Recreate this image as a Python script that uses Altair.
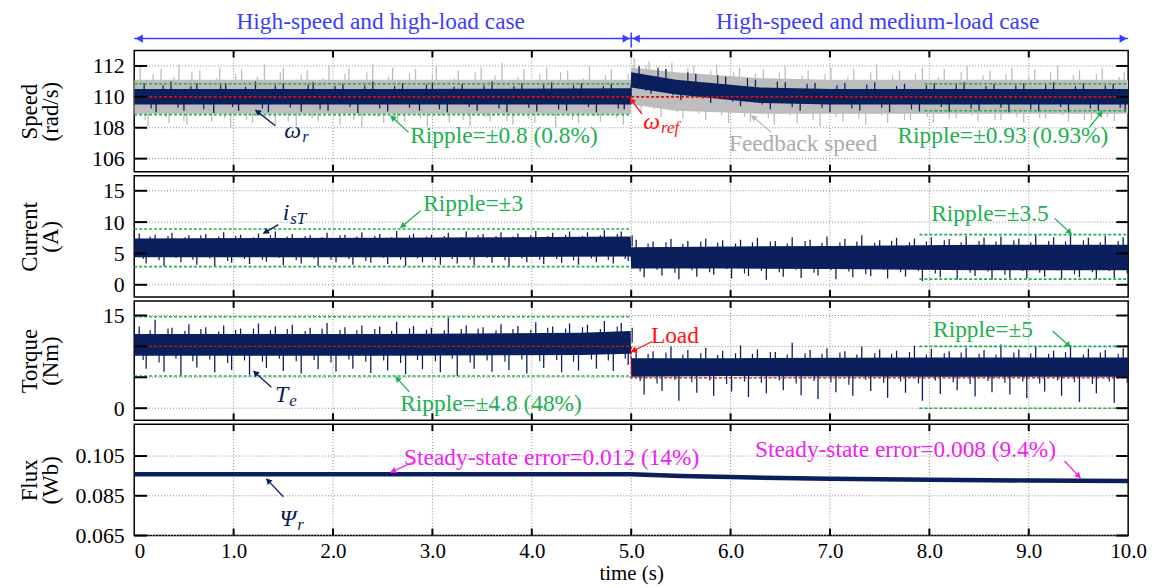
import math
import altair as alt
import numpy as np
import pandas as pd

FONT = "'Liberation Serif', 'Times New Roman', Times, 'DejaVu Serif', serif"
NAVY = "#0a1f5c"
GRAY = "#bdbdbd"
GRAYTXT = "#ababab"
GREEN = "#20b050"
RED = "#ff1010"
REDLINE = "#d81010"
MAG = "#ee22ee"
BLUE = "#3c3cff"
GRID = "#8a8a8a"
W = 1000
HEAD_H = 38
H = [122, 122, 120, 112]
TXT = 23.5

# ---------------- speed ----------------
sp_t = [0, 2.5, 4.995, 5.0, 5.45, 6.3, 7.0, 8.0, 9.0, 10.0]
gray_lo = [108.9, 108.9, 108.9, 109.5, 109.1, 108.9, 108.9, 108.9, 108.9, 108.9]
gray_hi = [111.1, 111.1, 111.1, 111.9, 111.6, 111.2, 111.1, 111.1, 111.1, 111.1]
navy_lo = [109.5, 109.5, 109.5, 110.6, 110.15, 109.6, 109.5, 109.5, 109.5, 109.5]
navy_hi = [110.5, 110.5, 110.55, 111.6, 111.1, 110.6, 110.5, 110.5, 110.5, 110.5]

gsp_t = [0.06, 0.14, 0.27, 0.35, 0.45, 0.53, 0.66, 0.78, 0.86, 0.97, 1.08, 1.19, 1.31, 1.42,
         1.50, 1.63, 1.74, 1.85, 1.96, 2.07, 2.16, 2.29, 2.40, 2.51, 2.60, 2.72, 2.83, 2.95,
         3.04, 3.17, 3.26, 3.38, 3.49, 3.58, 3.70, 3.81, 3.92, 4.03, 4.15, 4.24, 4.36, 4.47,
         4.58, 4.69, 4.80, 4.92, 5.03, 5.10, 5.18, 5.30, 5.41, 5.52, 5.63, 5.75, 5.86, 5.98,
         6.09, 6.20, 6.33, 6.44, 6.55, 6.67, 6.78, 6.90, 7.01, 7.13, 7.24, 7.36, 7.47, 7.58,
         7.70, 7.81, 7.93, 8.04, 8.15, 8.27, 8.38, 8.49, 8.61, 8.72, 8.83, 8.95, 9.06, 9.17,
         9.29, 9.40, 9.51, 9.63, 9.74, 9.86, 9.96]
gsp_v = [112.0, 108.1, 111.8, 108.3, 112.1, 108.2, 111.7, 108.4, 111.9, 108.0, 111.8, 108.3, 112.1, 108.2,
         111.9, 108.1, 111.7, 108.4, 112.0, 108.2, 111.8, 108.0, 112.1, 108.3, 111.9, 108.4, 111.8, 108.1,
         112.0, 108.3, 111.7, 108.1, 111.9, 108.4, 112.2, 108.2, 111.8, 108.3, 111.9, 108.0, 111.7, 108.3,
         112.0, 108.4, 111.8, 108.2, 112.5, 109.0, 112.3, 108.7, 112.2, 108.6, 112.0, 108.5, 112.1, 108.3,
         111.9, 108.4, 111.8, 108.2, 112.0, 108.3, 111.7, 108.1, 111.9, 108.4, 111.8, 108.2, 112.1, 108.3,
         111.7, 108.5, 111.9, 108.3, 111.8, 108.6, 112.0, 108.4, 111.7, 108.5, 111.9, 108.3, 111.8, 108.6,
         112.0, 108.4, 111.7, 108.5, 111.9, 108.4, 111.6]
gedge_v = [108.5, 111.5, 108.7, 111.3, 108.4, 111.6, 108.8, 111.2, 108.6, 111.5, 108.5, 111.3, 108.7, 111.6,
           108.4, 111.4, 108.6, 111.2, 108.8, 111.5, 108.5, 111.6, 108.7, 111.3, 108.4, 111.5, 108.6, 111.4,
           108.8, 111.2, 108.5, 111.6, 108.7, 111.4, 108.4, 111.3, 108.6, 111.5, 108.8, 111.6, 108.5, 111.2,
           108.7, 111.4, 108.6, 111.5, 109.4, 112.0, 109.2, 111.8, 109.0, 111.9, 108.9, 111.7, 108.8, 111.6,
           108.7, 111.5, 108.6, 111.6, 108.8, 111.4, 108.5, 111.5, 108.7, 111.3, 108.6, 111.6, 108.8, 111.4,
           108.5, 111.5, 108.7, 111.3, 108.6, 111.6, 108.8, 111.4, 108.5, 111.5, 108.7, 111.3, 108.6, 111.6,
           108.8, 111.4, 108.5, 111.5, 108.7, 111.3, 108.6]

nsp_t = [0.10, 0.22, 0.37, 0.50, 0.63, 0.80, 0.92, 1.05, 1.22, 1.35, 1.50, 1.68, 1.80, 1.95, 2.10,
         2.25, 2.40, 2.55, 2.70, 2.87, 3.00, 3.15, 3.30, 3.45, 3.60, 3.75, 3.90, 4.05, 4.20, 4.35,
         4.50, 4.65, 4.80, 4.93, 5.08, 5.20, 5.35, 5.50, 5.65, 5.80, 5.95, 6.10, 6.25, 6.40, 6.55,
         6.70, 6.85, 7.00, 7.15, 7.30, 7.45, 7.60, 7.75, 7.90, 8.05, 8.20, 8.35, 8.50, 8.65, 8.80,
         8.95, 9.10, 9.25, 9.40, 9.55, 9.70, 9.85, 9.97]
nsp_v = [110.9, 109.0, 111.0, 109.1, 110.9, 108.95, 110.85, 109.1, 111.0, 109.0, 110.9, 109.05, 110.95, 109.1, 110.85,
         108.95, 111.0, 109.05, 110.9, 109.1, 110.95, 109.0, 110.85, 109.1, 111.0, 109.0, 110.9, 109.05, 110.95, 109.1,
         110.9, 109.0, 110.85, 109.2, 112.0, 110.2, 111.8, 109.8, 111.5, 109.6, 111.3, 109.4, 111.1, 109.2, 110.95,
         109.1, 110.9, 109.0, 110.9, 109.1, 110.95, 109.0, 110.85, 109.05, 110.9, 109.0, 110.95, 109.1, 110.85, 109.0,
         110.9, 109.05, 110.95, 109.0, 110.9, 109.1, 110.85, 109.05]
nedge_v = [109.25, 110.75, 109.3, 110.7, 109.2, 110.8, 109.35, 110.65, 109.25, 110.75, 109.3, 110.8, 109.2, 110.7, 109.35,
           110.75, 109.25, 110.7, 109.3, 110.8, 109.2, 110.65, 109.35, 110.75, 109.25, 110.7, 109.3, 110.8, 109.2, 110.75,
           109.35, 110.7, 109.25, 110.8, 110.4, 111.9, 110.1, 111.6, 109.9, 111.4, 109.7, 111.2, 109.5, 111.0,
           109.35, 110.85, 109.3, 110.75, 109.25, 110.8, 109.3, 110.7, 109.2, 110.75, 109.35, 110.8, 109.25, 110.7,
           109.3, 110.75, 109.2, 110.8, 109.35, 110.7, 109.25, 110.75, 109.3, 110.8]

# ---------------- current ----------------
cur_t = [0, 2.5, 4.995, 5.0, 6.0, 7.0, 7.9, 8.5, 10.0]
cur_lo = [4.4, 4.4, 4.5, 2.6, 2.6, 2.5, 2.4, 2.3, 2.3]
cur_hi = [7.4, 7.5, 7.7, 6.0, 6.1, 6.2, 6.3, 6.4, 6.4]
csp_t = [0.05, 0.12, 0.21, 0.30, 0.38, 0.47, 0.55, 0.63, 0.72, 0.81, 0.90, 0.98, 1.07, 1.16, 1.25,
         1.33, 1.42, 1.50, 1.59, 1.68, 1.77, 1.85, 1.94, 2.03, 2.12, 2.20, 2.29, 2.38, 2.47, 2.55,
         2.64, 2.73, 2.81, 2.90, 2.99, 3.08, 3.16, 3.25, 3.34, 3.42, 3.51, 3.60, 3.69, 3.77, 3.86,
         3.95, 4.04, 4.12, 4.21, 4.30, 4.38, 4.47, 4.56, 4.65, 4.73, 4.82, 4.90, 4.97,
         5.05, 5.13, 5.22, 5.31, 5.40, 5.48, 5.57, 5.66, 5.75, 5.83, 5.92, 6.01, 6.10, 6.18, 6.27,
         6.36, 6.45, 6.53, 6.62, 6.71, 6.80, 6.88, 6.97, 7.06, 7.15, 7.23, 7.32, 7.41, 7.50, 7.58,
         7.67, 7.76, 7.85, 7.93, 8.02, 8.11, 8.20, 8.28, 8.37, 8.46, 8.55, 8.63, 8.72, 8.81, 8.90,
         8.98, 9.07, 9.16, 9.25, 9.33, 9.42, 9.51, 9.60, 9.68, 9.77, 9.86, 9.95]
csp_v = [8.2, 3.4, 8.0, 3.0, 8.3, 3.6, 7.9, 3.2, 8.1, 2.9, 8.4, 3.5, 8.0, 3.3, 8.2,
         3.7, 8.5, 3.1, 8.1, 3.4, 7.9, 3.0, 8.3, 3.6, 8.0, 3.2, 8.4, 3.5, 8.1, 3.3,
         8.6, 3.0, 8.2, 3.6, 8.0, 3.2, 8.3, 3.4, 8.5, 3.1, 8.1, 3.5, 8.4, 3.0, 8.2,
         3.6, 8.6, 3.3, 8.3, 3.5, 8.5, 3.2, 8.4, 3.6, 8.7, 3.4, 8.5, 3.8,
         7.2, 1.2, 6.9, 1.5, 7.3, 0.9, 7.0, 1.3, 7.4, 1.6, 7.1, 1.0, 7.2, 1.4, 7.5,
         0.8, 7.0, 1.3, 7.6, 1.1, 7.2, 1.5, 7.7, 0.9, 7.3, 1.2, 7.9, 1.4, 7.1, 1.0,
         7.5, 1.3, 7.4, 0.6, 7.6, 1.2, 7.3, 0.9, 7.8, 1.4, 7.5, 0.8, 7.7, 1.1, 7.4,
         1.0, 7.9, 1.3, 7.6, 0.8, 8.0, 1.2, 7.5, 0.9, 7.8, 1.1, 7.6]
cedge_v = [4.1, 7.7, 3.9, 7.8, 4.3, 7.6, 4.0, 7.9, 4.2, 7.7, 3.8, 7.8, 4.1, 7.6,
           4.0, 7.9, 4.3, 7.7, 3.9, 7.8, 4.2, 7.6, 4.0, 7.9, 4.1, 7.7, 3.8, 7.8, 4.3, 7.6,
           4.0, 7.9, 4.2, 7.7, 3.9, 7.8, 4.1, 7.6, 4.0, 7.9, 4.3, 7.8, 3.9, 7.7, 4.2,
           7.9, 4.0, 7.8, 4.1, 8.0, 3.9, 7.8, 4.2, 7.9, 4.0, 8.1, 4.1, 7.9,
           2.1, 6.6, 2.4, 6.8, 1.9, 6.5, 2.3, 6.9, 2.0, 6.7, 2.5, 6.6, 1.8, 6.8, 2.2,
           6.9, 2.0, 6.6, 2.4, 7.0, 1.9, 6.7, 2.3, 6.8, 2.1, 6.9, 1.7, 6.7, 2.4, 7.0,
           2.0, 6.8, 2.2, 6.9, 1.8, 7.1, 2.3, 6.8, 1.9, 7.0, 2.1, 6.9, 1.6, 7.1, 2.2,
           6.8, 1.9, 7.0, 2.3, 6.9, 1.7, 7.1, 2.0, 6.8, 2.2, 7.0, 1.8]

# ---------------- torque ----------------
tq_t = [0, 2.5, 4.5, 4.995, 5.0, 6.0, 8.0, 10.0]
tq_lo = [8.5, 8.5, 8.6, 8.8, 5.1, 5.2, 5.1, 5.1]
tq_hi = [12.0, 12.0, 12.2, 12.5, 8.1, 8.1, 8.2, 8.2]
tsp_t = csp_t
tsp_v = [13.2, 6.4, 14.3, 5.9, 13.0, 5.2, 13.6, 6.6, 13.1, 5.8, 13.4, 6.2, 12.9, 5.4, 13.7,
         6.5, 13.2, 6.0, 13.5, 5.6, 13.0, 6.3, 13.8, 5.9, 13.1, 6.4, 13.4, 5.7, 13.2, 6.1,
         14.0, 5.5, 13.3, 6.3, 13.0, 5.8, 14.6, 5.2, 13.4, 6.4, 13.1, 5.9, 13.6, 6.2, 13.3,
         5.6, 13.9, 6.5, 13.2, 5.8, 13.7, 6.1, 13.5, 6.4, 14.1, 6.0, 13.8, 7.0,
         9.6, 2.2, 9.2, 2.8, 10.0, 1.2, 9.4, 2.5, 9.8, 2.0, 9.3, 2.7, 10.2, 1.8, 9.5,
         2.4, 9.1, 2.9, 10.6, 2.1, 9.4, 1.5, 9.7, 2.6, 9.2, 2.0, 10.0, 2.8, 9.5, 1.7,
         9.3, 2.5, 10.1, 1.2, 9.6, 2.3, 9.2, 2.9, 9.8, 1.9, 9.4, 2.6, 10.3, 2.2, 9.5,
         1.6, 9.9, 2.7, 9.3, 2.0, 10.2, 1.0, 9.6, 2.4, 9.4, 0.9, 9.7]
tedge_v = [7.8, 12.6, 7.4, 12.9, 8.0, 12.5, 7.6, 12.8, 7.9, 12.4, 7.3, 12.7, 7.7, 12.9,
           7.5, 12.6, 8.0, 12.8, 7.6, 12.5, 7.8, 12.9, 7.4, 12.7, 7.9, 12.6, 7.5, 12.8, 7.7, 12.5,
           7.3, 12.9, 7.8, 12.7, 7.6, 12.6, 8.0, 12.8, 7.4, 12.9, 7.7, 12.6, 7.5, 12.8, 7.9,
           12.7, 7.6, 13.0, 7.8, 12.9, 7.5, 13.1, 7.9, 12.8, 7.7, 13.2, 8.0, 13.0,
           4.4, 8.8, 4.0, 9.0, 4.6, 8.7, 4.2, 8.9, 4.5, 8.6, 3.9, 8.9, 4.3, 8.8, 4.1,
           9.1, 4.5, 8.7, 4.0, 8.9, 4.4, 8.8, 4.2, 9.0, 3.8, 8.7, 4.6, 8.9, 4.1, 8.8,
           4.3, 9.1, 4.0, 8.7, 4.5, 8.9, 4.2, 9.0, 3.9, 8.8, 4.4, 8.7, 4.1, 9.0, 4.3,
           8.9, 4.0, 8.8, 4.5, 9.1, 4.2, 8.7, 3.9, 9.0, 4.3, 8.8, 4.1]
tq_ref_t = [0, 5.0, 5.0, 10.0]
tq_ref_v = [10.0, 10.0, 4.9, 4.9]

# ---------------- flux ----------------
flux_t = [0, 5.0, 5.5, 6.0, 6.5, 7.0, 8.0, 9.0, 10.0]
flux_v = [0.0958, 0.0958, 0.0950, 0.0944, 0.0939, 0.0936, 0.0931, 0.0927, 0.0924]

DOMS = [[105.15, 113.0], [-1.95, 17.4], [-1.95, 17.35], [0.065, 0.121]]
TICKS = [[106, 108, 110, 112], [0, 5, 10, 15], [0, 5, 10, 15], [0.065, 0.085, 0.105]]
FMTS = ["d", "d", "d", ".3f"]
TITLES = [["Speed", "(rad/s)"], ["Current", "(A)"], ["Torque", "(Nm)"], ["Flux", "(Wb)"]]

GREENS = [
    [(0, 5.0, 110.85), (0, 5.0, 108.85), (7.95, 10, 110.85), (7.95, 10, 109.1)],
    [(0, 5.0, 8.9), (0, 5.0, 2.9), (7.9, 10, 8.0), (7.9, 10, 0.9)],
    [(0, 5.0, 14.8), (0, 5.0, 5.2), (7.9, 10, 10.0), (7.9, 10, 0.0)],
    [],
]
TEXTS = [
    [(3.72, 107.45, "Ripple=±0.8 (0.8%)", GREEN), (8.74, 107.48, "Ripple=±0.93 (0.93%)", GREEN),
     (6.73, 106.95, "Feedback speed", GRAYTXT)],
    [(3.41, 12.9, "Ripple=±3", GREEN), (8.61, 11.3, "Ripple=±3.5", GREEN)],
    [(5.44, 11.7, "Load", RED), (3.59, 0.65, "Ripple=±4.8 (48%)", GREEN), (8.54, 12.7, "Ripple=±5", GREEN)],
    [(4.2, 0.104, "Steady-state error=0.012 (14%)", MAG), (7.76, 0.108, "Steady-state error=0.008 (9.4%)", MAG)],
]
SYMS = [
    [(1.68, 107.8, "ω", "r", NAVY), (5.29, 108.37, "ω", "ref", RED)],
    [(1.56, 11.5, "i", "sT", NAVY)],
    [(1.55, 2.1, "T", "e", NAVY)],
    [(1.63, 0.0735, "Ψ", "r", NAVY)],
]
ARROWS = [
    [(1.42, 108.13, 1.22, 109.14, NAVY), (2.76, 107.7, 2.58, 108.77, GREEN),
     (5.11, 108.88, 4.99, 109.9, RED), (6.41, 107.7, 6.21, 108.8, GRAY),
     (9.61, 108.03, 9.74, 109.06, GREEN)],
    [(1.45, 9.6, 1.30, 8.2, NAVY), (2.88, 11.8, 2.68, 9.1, GREEN), (9.26, 10.6, 9.43, 8.1, GREEN)],
    [(5.21, 10.8, 5.0, 9.1, RED), (1.38, 3.4, 1.2, 6.0, NAVY), (2.77, 2.6, 2.63, 5.1, GREEN),
     (9.24, 12.5, 9.42, 9.9, GREEN)],
    [(1.5, 0.0845, 1.33, 0.0935, NAVY), (2.83, 0.1025, 2.58, 0.0968, MAG),
     (9.36, 0.1025, 9.52, 0.094, MAG)],
]
HEAD_TEXT = [(2.48, "High-speed and high-load case"), (7.48, "High-speed and medium-load case")]

STATE = {"bottom": False, "header": False}


def X(field="t", axis=alt.Undefined):
    if axis is alt.Undefined and (not STATE["bottom"] or STATE["header"]):
        axis = None
    return alt.X(f"{field}:Q", scale=alt.Scale(domain=[0, 10], nice=False, zero=False), axis=axis)


def Y(field, dom, axis=alt.Undefined):
    if axis is alt.Undefined and STATE["header"]:
        axis = None
    return alt.Y(f"{field}:Q", scale=alt.Scale(domain=dom, nice=False, zero=False), axis=axis)


def band(t, lo, hi, dom, color):
    df = pd.DataFrame({"t": t, "lo": lo, "hi": hi})
    return alt.Chart(df).mark_area(color=color, opacity=1, clip=True).encode(
        x=X("t"), y=Y("lo", dom), y2="hi:Q")


def spikes(t, v, env_t, env_lo, env_hi, dom, color, sw=1.2, off=0):
    n = min(len(t), len(v))
    t, v = list(t)[:n], list(v)[:n]
    mid = (np.array(env_lo) + np.array(env_hi)) / 2.0
    base = np.interp(t, env_t, mid)
    df = pd.DataFrame({"t": t, "lo": base, "hi": v})
    return alt.Chart(df).mark_rule(color=color, strokeWidth=sw, clip=True, xOffset=off).encode(
        x=X("t"), y=Y("lo", dom), y2="hi:Q")


def axis_carrier(i, bottom):
    dom, h = DOMS[i], H[i]
    yaxis = alt.Axis(values=TICKS[i], format=FMTS[i], ticks=False, domain=False, grid=False,
                     labelFont=FONT, labelFontSize=22, labelColor="black", labelPadding=10,
                     labelOverlap=False,
                     title=TITLES[i], titleFont=FONT, titleFontSize=23, titleFontWeight="normal",
                     titleColor="black", titleAngle=270, titleX=-105, titleY=h / 2,
                     titleAlign="center", titleBaseline="middle", titleLineHeight=21)
    if bottom:
        xaxis = alt.Axis(values=list(range(11)),
                         labelExpr="datum.value == 0 ? '0' : format(datum.value, '.1f')",
                         labelFlush=False,
                         labelAlign={"condition": {"test": "datum.value == 0", "value": "left"},
                                     "value": "center"},
                         ticks=False, domain=False, grid=False,
                         labelFont=FONT, labelFontSize=21, labelColor="black", labelPadding=5,
                         title="time (s)", titleFont=FONT, titleFontSize=21,
                         titleFontWeight="normal", titleColor="black", titlePadding=1)
    else:
        xaxis = None
    df = pd.DataFrame({"t": [0.0], "v": [dom[0]]})
    return alt.Chart(df).mark_point(opacity=0, size=1).encode(
        x=X("t", xaxis), y=Y("v", dom, yaxis))


def grid_layers(i):
    dom, h = DOMS[i], H[i]
    gy = pd.DataFrame({"v": TICKS[i]})
    gx = pd.DataFrame({"t": [1, 2, 3, 4, 5, 6, 7, 8, 9]})
    return [
        alt.Chart(gy).mark_rule(color=GRID, strokeDash=[1, 2], strokeWidth=1).encode(
            y=Y("v", dom), x=alt.value(0), x2=alt.value(W)),
        alt.Chart(gx).mark_rule(color=GRID, strokeDash=[1, 2], strokeWidth=1).encode(
            x=X("t"), y=alt.value(0), y2=alt.value(h)),
    ]


def tick_layers(i):
    dom, h = DOMS[i], H[i]
    gy = pd.DataFrame({"v": TICKS[i]})
    gx = pd.DataFrame({"t": [1, 2, 3, 4, 5, 6, 7, 8, 9]})
    return [
        alt.Chart(gy).mark_rule(color="black", strokeWidth=2).encode(
            y=Y("v", dom), x=alt.value(0), x2=alt.value(13)),
        alt.Chart(gy).mark_rule(color="black", strokeWidth=2).encode(
            y=Y("v", dom), x=alt.value(W - 12), x2=alt.value(W)),
        alt.Chart(gx).mark_rule(color="black", strokeWidth=2).encode(
            x=X("t"), y=alt.value(0), y2=alt.value(7)),
        alt.Chart(gx).mark_rule(color="black", strokeWidth=2).encode(
            x=X("t"), y=alt.value(h - 7), y2=alt.value(h)),
    ]


def green_layer(i):
    g = GREENS[i]
    if not g:
        return []
    df = pd.DataFrame([{"t0": a, "t1": b, "v": v} for (a, b, v) in g])
    return [alt.Chart(df).mark_rule(color=GREEN, strokeWidth=1.6, strokeDash=[3, 2]).encode(
        x=X("t0"), x2="t1:Q", y=Y("v", DOMS[i]))]


def arrow_layers(i):
    arrows, dom, h = ARROWS[i], DOMS[i], H[i]
    rows, heads = [], []
    span = dom[1] - dom[0]
    for (t0, v0, t1, v1, c) in arrows:
        x0, y0 = t0 * W / 10, h * (dom[1] - v0) / span
        x1, y1 = t1 * W / 10, h * (dom[1] - v1) / span
        dx, dy = x1 - x0, y1 - y0
        L = math.hypot(dx, dy)
        ux, uy = dx / L, dy / L
        ang = math.degrees(math.atan2(dx, -dy)) % 360
        hx, hy = x1 - ux * 3.5, y1 - uy * 3.5
        rows.append({"t0": t0, "v0": v0, "t1": t1, "v1": v1, "c": c})
        heads.append({"t": hx * 10 / W, "v": dom[1] - hy * span / h, "a": ang, "c": c})
    line = alt.Chart(pd.DataFrame(rows)).mark_rule(strokeWidth=1.3).encode(
        x=X("t0"), x2="t1:Q", y=Y("v0", dom), y2="v1:Q", color=alt.Color("c:N", scale=None))
    head = alt.Chart(pd.DataFrame(heads)).mark_point(shape="triangle", filled=True, size=45, opacity=1).encode(
        x=X("t"), y=Y("v", dom), angle=alt.Angle("a:Q", scale=None), color=alt.Color("c:N", scale=None))
    return [line, head]


def text_layers(i):
    texts, syms, dom = TEXTS[i], SYMS[i], DOMS[i]
    out = []
    df = pd.DataFrame([{"t": a, "v": b, "s": s, "c": c} for (a, b, s, c) in texts])
    out.append(alt.Chart(df).mark_text(font=FONT, fontSize=TXT, baseline="middle", align="center").encode(
        x=X("t"), y=Y("v", dom), text="s:N", color=alt.Color("c:N", scale=None)))
    df = pd.DataFrame([{"t": a, "v": b, "m": m, "s": s, "c": c} for (a, b, m, s, c) in syms])
    out.append(alt.Chart(df).mark_text(font=FONT, fontSize=24, fontStyle="italic", baseline="middle",
                                       align="right").encode(
        x=X("t"), y=Y("v", dom), text="m:N", color=alt.Color("c:N", scale=None)))
    out.append(alt.Chart(df).mark_text(font=FONT, fontSize=17, fontStyle="italic", baseline="middle",
                                       align="left", dx=1, dy=6).encode(
        x=X("t"), y=Y("v", dom), text="s:N", color=alt.Color("c:N", scale=None)))
    return out


panels = []

# speed
d = DOMS[0]
L = [axis_carrier(0, False)] + grid_layers(0)
L += [band(sp_t, gray_lo, gray_hi, d, GRAY),
      spikes(gsp_t, gsp_v, sp_t, gray_lo, gray_hi, d, GRAY, 1.3),
      spikes(gsp_t, gedge_v, sp_t, gray_lo, gray_hi, d, GRAY, 1.2, 5),
      band(sp_t, navy_lo, navy_hi, d, NAVY),
      spikes(nsp_t, nsp_v, sp_t, navy_lo, navy_hi, d, NAVY, 1.3),
      spikes(nsp_t, nedge_v, sp_t, navy_lo, navy_hi, d, NAVY, 1.2, 7)]
L.append(alt.Chart(pd.DataFrame({"t0": [0], "t1": [10], "v": [110]})).mark_rule(
    color=REDLINE, strokeWidth=1.6, strokeDash=[3, 2]).encode(x=X("t0"), x2="t1:Q", y=Y("v", d)))
L += green_layer(0) + tick_layers(0) + arrow_layers(0) + text_layers(0)
panels.append(alt.layer(*L).properties(width=W, height=H[0]))

# current
d = DOMS[1]
L = [axis_carrier(1, False)] + grid_layers(1)
L += [band(cur_t, cur_lo, cur_hi, d, NAVY),
      spikes(csp_t, csp_v, cur_t, cur_lo, cur_hi, d, NAVY, 1.3),
      spikes(csp_t, cedge_v, cur_t, cur_lo, cur_hi, d, NAVY, 1.2, 4)]
L += green_layer(1) + tick_layers(1) + arrow_layers(1) + text_layers(1)
panels.append(alt.layer(*L).properties(width=W, height=H[1]))

# torque
d = DOMS[2]
L = [axis_carrier(2, False)] + grid_layers(2)
L += [band(tq_t, tq_lo, tq_hi, d, NAVY),
      spikes(tsp_t, tsp_v, tq_t, tq_lo, tq_hi, d, NAVY, 1.3),
      spikes(tsp_t, tedge_v, tq_t, tq_lo, tq_hi, d, NAVY, 1.2, 4)]
L.append(alt.Chart(pd.DataFrame({"t": tq_ref_t, "v": tq_ref_v, "i": [0, 1, 2, 3]})).mark_line(
    color=REDLINE, strokeWidth=1.4, strokeDash=[3, 2]).encode(x=X("t"), y=Y("v", d), order="i:Q"))
L += green_layer(2) + tick_layers(2) + arrow_layers(2) + text_layers(2)
panels.append(alt.layer(*L).properties(width=W, height=H[2]))

# flux
STATE["bottom"] = True
d = DOMS[3]
L = [axis_carrier(3, True)] + grid_layers(3)
L.append(alt.Chart(pd.DataFrame({"t": flux_t, "v": flux_v})).mark_line(
    color=NAVY, strokeWidth=4.5).encode(x=X("t"), y=Y("v", d)))
L += tick_layers(3) + arrow_layers(3) + text_layers(3)
panels.append(alt.layer(*L).properties(width=W, height=H[3]))

# header
STATE["header"] = True
hd = [0, 1]
head_txt = alt.Chart(pd.DataFrame([{"t": a, "v": 0.684, "s": s} for (a, s) in HEAD_TEXT])).mark_text(
    font=FONT, fontSize=TXT, color=BLUE, baseline="middle", align="center").encode(
    x=X("t"), y=Y("v", hd), text="s:N")
shaft = alt.Chart(pd.DataFrame({"t0": [0, 5.0], "t1": [5.0, 10], "v": [0.237, 0.237]})).mark_rule(
    color=BLUE, strokeWidth=1.5).encode(x=X("t0"), x2="t1:Q", y=Y("v", hd))
divider = alt.Chart(pd.DataFrame({"t": [5.0], "v0": [0.40], "v1": [0.0]})).mark_rule(
    color=BLUE, strokeWidth=1.5).encode(x=X("t"), y=Y("v0", hd), y2="v1:Q")
lh = alt.Chart(pd.DataFrame({"t": [0, 5.0], "v": [0.237, 0.237]})).mark_point(
    shape="triangle-left", filled=True, size=70, color=BLUE, opacity=1, xOffset=5).encode(
    x=X("t"), y=Y("v", hd))
rh = alt.Chart(pd.DataFrame({"t": [5.0, 10], "v": [0.237, 0.237]})).mark_point(
    shape="triangle-right", filled=True, size=70, color=BLUE, opacity=1, xOffset=-5).encode(
    x=X("t"), y=Y("v", hd))
header = alt.layer(head_txt, shaft, divider, lh, rh).properties(
    width=W, height=HEAD_H, view=alt.ViewBackground(strokeOpacity=0))

chart = alt.vconcat(header, *panels, spacing=0).properties(
    padding={"left": 10, "top": 0, "right": 5, "bottom": 0}, background="white"
).configure_view(stroke="black", strokeWidth=1.5)

chart.save("out.html", embed_options={"renderer": "svg", "actions": False})
